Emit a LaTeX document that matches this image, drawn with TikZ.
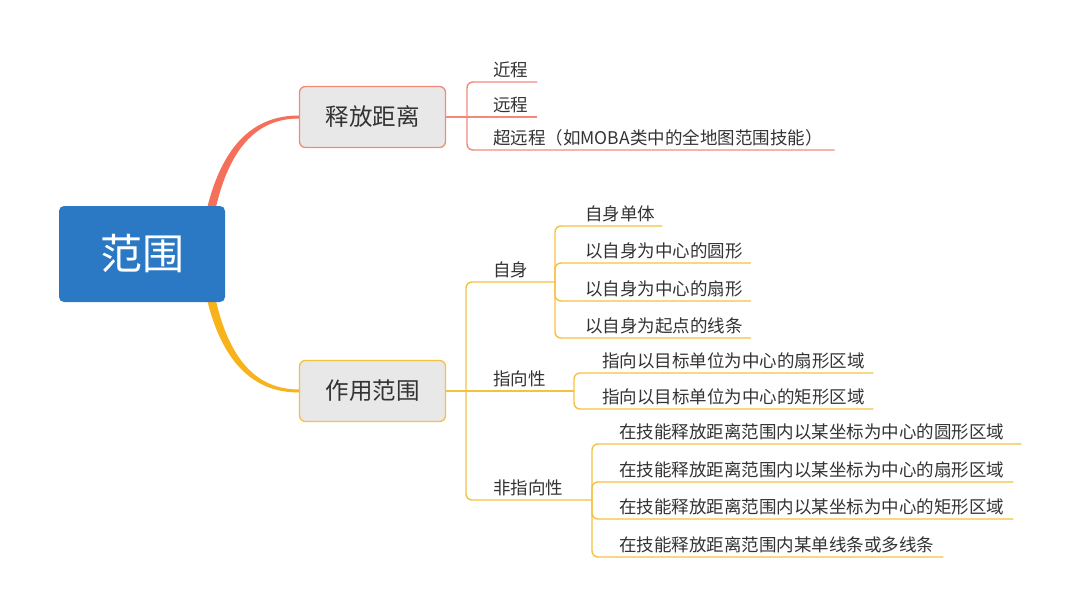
\documentclass[tikz,border=0pt]{standalone}
\usepackage{fontspec}
\setmainfont{Noto Sans CJK SC}
\usetikzlibrary{calc}
\definecolor{ink}{HTML}{333333}
\definecolor{rootblue}{HTML}{2B78C4}
\definecolor{boxgray}{HTML}{E8E8E8}
\definecolor{coral}{HTML}{F4705A}
\definecolor{coralsoft}{HTML}{F28A7C}
\definecolor{amber}{HTML}{F8B31A}
\definecolor{ambersoft}{HTML}{F6C040}
\tikzset{
  every node/.style={text=ink,inner sep=0pt},
  rootbox/.style={fill=rootblue,rounded corners=5pt,minimum width=166pt,
                  minimum height=96pt,text=white,font=\fontsize{42}{46}\selectfont},
  topicbox/.style={fill=boxgray,draw,line width=1.3pt,rounded corners=6pt,minimum width=146pt,
                   minimum height=61pt,font=\fontsize{23.5}{27}\selectfont},
  leaf/.style={anchor=south west,inner ysep=4pt,font=\fontsize{17.5}{21}\selectfont},
  twig/.style={line width=1.4pt,rounded corners=6pt},
}

\begin{document}
\begin{tikzpicture}[x=1pt,y=-1pt]           % pixel grid, y down
\path[use as bounding box] (0,0) rectangle (1080,616);

\node[topicbox,draw=coralsoft] (rel) at (372.5,117) {释放距离};
\node[topicbox,draw=ambersoft] (use) at (372.5,391) {作用范围};

% The two main branches taper from the root towards their topics.
\fill[coral] (201,240) .. controls (214,150) and (250,115.5) .. ([yshift=1.5pt]rel.west)
      -- ([yshift=-1.5pt]rel.west) .. controls (254,118.5) and (222,152) .. (210,240) -- cycle;
\fill[amber] (201,268) .. controls (214,358) and (250,392.5) .. ([yshift=-1.5pt]use.west)
      -- ([yshift=1.5pt]use.west) .. controls (254,389.5) and (222,356) .. (210,268) -- cycle;
\node[rootbox] (root) at (142,254) {范围};

% Release distance: three leaves hanging off one junction.
\coordinate (relJ) at (467,117);
\draw[twig,coralsoft] (rel.east) -- (relJ);
\foreach \nm/\yy/\ext/\txt in {near/82/9/近程, ultra/150/12/超远程（如MOBA类中的全地图范围技能）}{
  \node[leaf] (\nm) at (493,\yy) {\txt};
  \draw[twig,coralsoft] (relJ) -- (relJ |- \nm.south) -- ([xshift=\ext pt]\nm.south east);
}
\node[leaf] (far) at (493,117) {远程};
\draw[twig,coralsoft] (relJ) -- ([xshift=9pt]far.south east);

% Area of effect: three kinds, each with its own leaves.
\coordinate (useJ) at (466,391);
\coordinate (selfJ) at (555,282);
\coordinate (aimJ) at (574,391);
\coordinate (freeJ) at (592,500);
\node[leaf] (aim) at (493,391) {指向性};
\draw[twig,ambersoft] (use.east) -- (aimJ);
\foreach \nm/\yy/\txt/\jj in {self/282/自身/selfJ, free/500/非指向性/freeJ}{
  \node[leaf] (\nm) at (493,\yy) {\txt};
  \draw[twig,ambersoft] (useJ) -- (useJ |- \nm.south) -- (\jj);
}
\foreach \nm/\yy/\ext/\txt in {selfA/226/7/自身单体, selfB/263/8/以自身为中心的圆形,
                               selfC/301/8/以自身为中心的扇形, selfD/338/8/以自身为起点的线条}{
  \node[leaf] (\nm) at (585,\yy) {\txt};
  \draw[twig,ambersoft] (selfJ) -- (selfJ |- \nm.south) -- ([xshift=\ext pt]\nm.south east);
}
\foreach \nm/\yy/\txt in {aimA/373/指向以目标单位为中心的扇形区域, aimB/409/指向以目标单位为中心的矩形区域}{
  \node[leaf] (\nm) at (602,\yy) {\txt};
  \draw[twig,ambersoft] (aimJ) -- (aimJ |- \nm.south) -- ([xshift=8.5pt]\nm.south east);
}
\foreach \nm/\yy/\ext/\txt in {freeA/444/17/在技能释放距离范围内以某坐标为中心的圆形区域,
                               freeB/482/9/在技能释放距离范围内以某坐标为中心的扇形区域,
                               freeC/519/9/在技能释放距离范围内以某坐标为中心的矩形区域,
                               freeD/557/9/在技能释放距离范围内某单线条或多线条}{
  \node[leaf] (\nm) at (619,\yy) {\txt};
  \draw[twig,ambersoft] (freeJ) -- (freeJ |- \nm.south) -- ([xshift=\ext pt]\nm.south east);
}
\end{tikzpicture}
\end{document}
